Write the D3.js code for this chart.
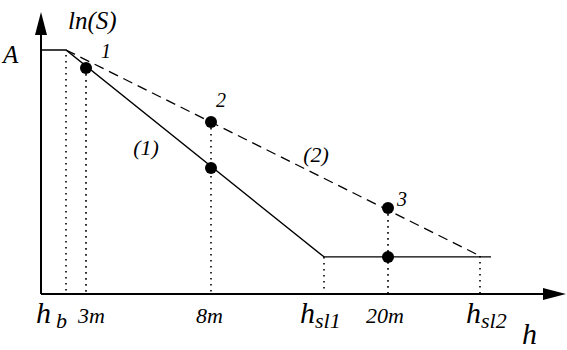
<!DOCTYPE html>
<html>
<head>
<meta charset="utf-8">
<script src="https://cdn.jsdelivr.net/npm/d3@7"></script>
<style>
  body { margin: 0; }
  svg text { font-family: 'Liberation Serif', 'Times New Roman', serif !important; font-style: italic !important; }
</style>
</head>
<body>
<div id="chart"></div>
<script>
// positions along h (arbitrary units)
var hNames = ["hb", "3m", "8m", "hsl1", "20m", "hsl2"];
var hValues = [5, 9, 34, 56.6, 69.4, 87.8];

// curve (1): solid, curve (2): dashed
var solidH = [0, 5, 56.6, 90];
var solidS = [10, 10, 1.52, 1.52];
var dashedH = [5, 87.8];
var dashedS = [10, 1.56];

// measured points
var pointH = [9, 34, 34, 69.4, 69.4];
var pointS = [9.26, 5.16, 7.05, 3.52, 1.52];
var pointLabels = ["1", "", "2", "3", ""];

// dotted drop lines: h and top ln(S)
var dropH = [5, 9, 34, 56.6, 69.4, 87.8];
var dropTop = [9.8, 9.26, 7.05, 1.52, 3.52, 1.56];

var width = 567, height = 350;

var x = d3.scaleLinear().domain([0, 100]).range([41, 541]);
var y = d3.scaleLinear().domain([0, 10]).range([294, 50]);

var svg = d3.select("#chart").append("svg")
    .attr("width", width)
    .attr("height", height)
    .style("display", "block");

function label(sel, size) {
  return sel.attr("font-size", size)
    .attr("font-family", "Liberation Serif")
    .attr("font-style", "italic")
    .style("font-size", size + "px");
}

// axes
svg.append("line")
    .attr("x1", x(0)).attr("y1", y(0))
    .attr("x2", 545).attr("y2", y(0))
    .attr("stroke", "#000").attr("stroke-width", 2);
svg.append("line")
    .attr("x1", x(0)).attr("y1", y(0))
    .attr("x2", x(0)).attr("y2", 32)
    .attr("stroke", "#000").attr("stroke-width", 2);

// arrow heads
svg.append("path")
    .attr("d", "M566," + y(0) + "L543," + (y(0) - 6) + "L543," + (y(0) + 6) + "Z")
    .attr("fill", "#000");
svg.append("path")
    .attr("d", "M" + x(0) + ",12L" + (x(0) - 6) + ",35L" + (x(0) + 6) + ",35Z")
    .attr("fill", "#000");

// dotted drop lines
svg.append("g").selectAll("line")
    .data(dropH)
    .enter().append("line")
    .attr("x1", function(d) { return x(d); })
    .attr("x2", function(d) { return x(d); })
    .attr("y1", function(d, i) { return y(dropTop[i]); })
    .attr("y2", y(0))
    .attr("stroke", "#000")
    .attr("stroke-width", 1.6)
    .attr("stroke-dasharray", "1.6,4.4");

var line = d3.line()
    .x(function(d) { return x(d[0]); })
    .y(function(d) { return y(d[1]); });

// curve (1)
svg.append("path")
    .attr("d", line(d3.zip(solidH, solidS)))
    .attr("fill", "none")
    .attr("stroke", "#000")
    .attr("stroke-width", 1.4);

// curve (2)
svg.append("path")
    .attr("d", line(d3.zip(dashedH, dashedS)))
    .attr("fill", "none")
    .attr("stroke", "#000")
    .attr("stroke-width", 1.3)
    .attr("stroke-dasharray", "10,6");

// points
svg.append("g").selectAll("circle")
    .data(pointH)
    .enter().append("circle")
    .attr("cx", function(d) { return x(d); })
    .attr("cy", function(d, i) { return y(pointS[i]); })
    .attr("r", 6)
    .attr("fill", "#000");

// point numbers
var numOffsets = [[20, -10], [0, 0], [10, -15], [14, -2], [0, 0]];
label(svg.append("g").selectAll("text")
    .data(pointLabels)
    .enter().append("text"), 20)
    .attr("x", function(d, i) { return x(pointH[i]) + numOffsets[i][0]; })
    .attr("y", function(d, i) { return y(pointS[i]) + numOffsets[i][1]; })
    .attr("text-anchor", "middle")
    .text(function(d) { return d; });

// curve labels
label(svg.append("text"), 22).attr("x", 146).attr("y", 155)
    .attr("text-anchor", "middle").text("(1)");
label(svg.append("text"), 22).attr("x", 316).attr("y", 162)
    .attr("text-anchor", "middle").text("(2)");

// axis titles
label(svg.append("text"), 25).attr("x", 68).attr("y", 29).text("ln(S)");
label(svg.append("text"), 25).attr("x", 3).attr("y", 63).text("A");
label(svg.append("text"), 30).attr("x", 522).attr("y", 344).text("h");

// tick labels
var tickText = [
  {main: "h", sub: "b", dx: -30},
  {main: "3m", sub: "", dx: -8},
  {main: "8m", sub: "", dx: -15},
  {main: "h", sub: "sl1", dx: -24},
  {main: "20m", sub: "", dx: -22},
  {main: "h", sub: "sl2", dx: -14}
];
hNames.forEach(function(name, i) {
  var t = tickText[i];
  var txt = label(svg.append("text"), t.sub ? 30 : 22)
      .attr("x", x(hValues[i]) + t.dx)
      .attr("y", 323);
  txt.append("tspan").text(t.main);
  if (t.sub) {
    label(txt.append("tspan"), 22)
        .attr("dy", 5)
        .attr("dx", i === 0 ? 5 : 0)
        .text(t.sub);
  }
});
</script>
</body>
</html>
